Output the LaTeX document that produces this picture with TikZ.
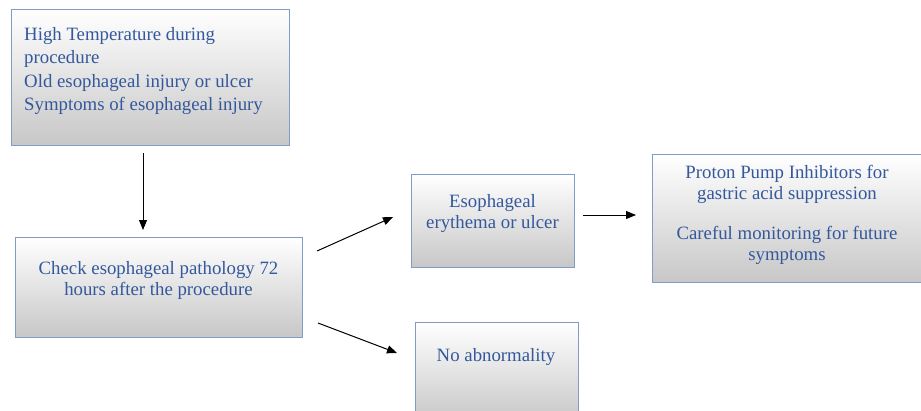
\documentclass[tikz,border=0pt]{standalone}
\usepackage{fontspec}
\setmainfont{Liberation Serif}
\usetikzlibrary{arrows.meta}
\definecolor{txt}{HTML}{34589C}
\definecolor{bord}{HTML}{7F9CC6}
\tikzset{
  box/.style={draw=bord, line width=1pt, top color=white, middle color=white, bottom color=black!22, inner sep=0pt, anchor=north west},
  lbl/.style={text=txt, inner sep=0pt, font=\fontsize{18.8}{21}\selectfont},
  arr/.style={-{Triangle[length=10pt,width=8pt]}, line width=1pt, black}
}
\begin{document}
\begin{tikzpicture}[x=1pt,y=-1pt]
\useasboundingbox (0,0) rectangle (921,410);
\clip (0,0) rectangle (921,410);
% boxes
\node[box, minimum width=278pt, minimum height=136pt] (b1) at (11,9) {};
\node[box, minimum width=287pt, minimum height=100pt] (b2) at (15,237) {};
\node[box, minimum width=163pt, minimum height=93pt] (b3) at (411,174) {};
\node[box, minimum width=270pt, minimum height=128pt] (b4) at (652,154) {};
\node[box, minimum width=163pt, minimum height=100pt] (b5) at (415,322) {};
% texts
\node[lbl, anchor=north west, align=left, font=\fontsize{18.8}{23.5}\selectfont] (t1) at (24,27)
  {High Temperature during\\procedure\\Old esophageal injury or ulcer\\Symptoms of esophageal injury};
\node[lbl, anchor=north, align=center] (t2) at (158.5,261)
  {Check esophageal pathology 72\\hours after the procedure};
\node[lbl, anchor=north, align=center] (t3) at (492.5,194)
  {Esophageal\\erythema or ulcer};
\node[lbl, anchor=north, align=center] (t4) at (787,165)
  {Proton Pump Inhibitors for\\gastric acid suppression\\[19pt]Careful monitoring for future\\symptoms};
\node[lbl, anchor=north, align=center] (t5) at (496,348)
  {No abnormality};
% arrow end points
\coordinate (a1s) at (143,153);
\coordinate (a1e) at (143,230);
\coordinate (a2s) at (317,251);
\coordinate (a2e) at (393,217);
\coordinate (a3s) at (318,323);
\coordinate (a3e) at (397,353);
\coordinate (a4s) at (583,215);
\coordinate (a4e) at (636,215);
\draw[arr] (a1s) -- (a1e);
\draw[arr] (a2s) -- (a2e);
\draw[arr] (a3s) -- (a3e);
\draw[arr] (a4s) -- (a4e);
\end{tikzpicture}
\end{document}
